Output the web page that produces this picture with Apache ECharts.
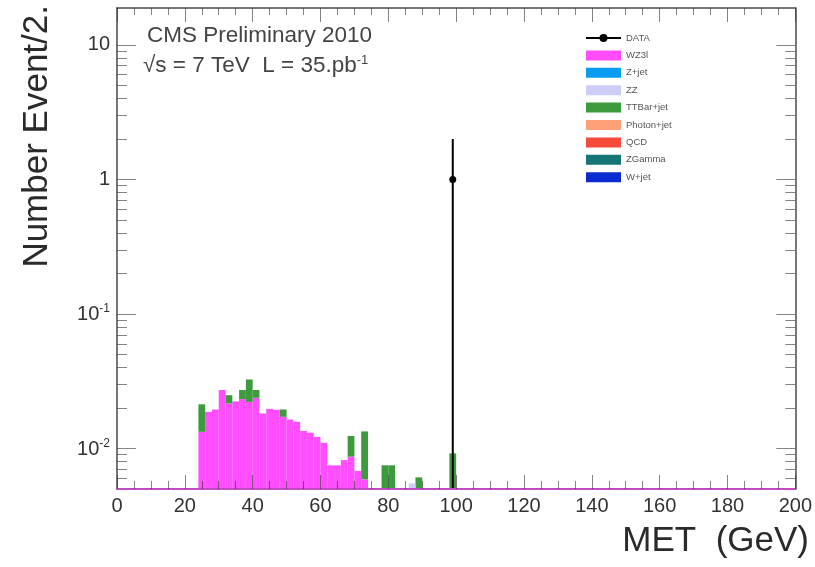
<!DOCTYPE html>
<html><head><meta charset="utf-8">
<script src="https://cdn.jsdelivr.net/npm/echarts@6/dist/echarts.min.js"></script>
<style>html,body{margin:0;padding:0;background:#fff}#c{width:815px;height:567px}</style>
</head><body><div id="c"></div>
<script>
// ---- data ----
const binWidth = 2;
const wz3lBins   = [24, 26, 28, 30, 32, 34, 36, 38, 40, 42, 44, 46, 48, 50, 52, 54, 56, 58, 60, 62, 64, 66, 68, 70, 72];
const wz3lValues = [0.0133, 0.0187, 0.0195, 0.0272, 0.0216, 0.0224, 0.0233, 0.0222, 0.0238, 0.0182, 0.0197, 0.0194, 0.0172, 0.0164, 0.0158, 0.0135, 0.0131, 0.0122, 0.0110, 0.0075, 0.0075, 0.0082, 0.0087, 0.0068, 0.0059];
const ttbarBins   = [24, 32, 36, 38, 40, 48, 68, 72, 78, 80, 88, 98];
const ttbarValues = [0.0080, 0.0033, 0.0039, 0.0104, 0.0034, 0.0023, 0.0037, 0.0075, 0.0075, 0.0075, 0.0061, 0.0092];
const zzBins   = [86];
const zzValues = [0.0055];
const dataX = [99];
const dataY = [1];
const dataErrLow  = [1];
const dataErrHigh = [1];
const legendNames = ['DATA', 'WZ3l', 'Z+jet', 'ZZ', 'TTBar+jet', 'Photon+jet', 'QCD', 'ZGamma', 'W+jet'];
const yMajorTicks = [0.01, 0.1, 1, 10];
const yMinorTicks = [0.006, 0.007, 0.008, 0.009, 0.02, 0.03, 0.04, 0.05, 0.06, 0.07, 0.08, 0.09,
                     0.2, 0.3, 0.4, 0.5, 0.6, 0.7, 0.8, 0.9, 2, 3, 4, 5, 6, 7, 8, 9];

// ---- layout / style ----
const yMin = 0.005, yMax = 18.8;
const colors = {
  'WZ3l': '#ff4dff', 'Z+jet': '#0a9bf2', 'ZZ': '#cdcdf7', 'TTBar+jet': '#3d9b3d',
  'Photon+jet': '#ffa078', 'QCD': '#f64a3a', 'ZGamma': '#167575', 'W+jet': '#0a2bd0'
};
const FONT = 'Liberation Sans';
const tickColor = 'rgba(50,50,50,0.6)';
const frameColor = '#4a4a4a';

const wz3lMap = {};
wz3lBins.forEach((b, i) => { wz3lMap[b] = wz3lValues[i]; });

const wz3lData = wz3lBins.map((b, i) => [b, b + binWidth, yMin, wz3lValues[i]]);
const ttbarData = ttbarBins.map((b, i) => {
  const base = wz3lMap[b] || yMin;
  return [b, b + binWidth, base, (wz3lMap[b] || 0) + ttbarValues[i]];
});
const zzData = zzBins.map((b, i) => [b, b + binWidth, yMin, zzValues[i]]);
const errData = dataX.map((x, i) => [x, Math.max(dataY[i] - dataErrLow[i], yMin), dataY[i] + dataErrHigh[i]]);
const pointData = dataX.map((x, i) => [x, dataY[i]]);

function histRender(params, api) {
  const p0 = api.coord([api.value(0), api.value(2)]);
  const p1 = api.coord([api.value(1), api.value(3)]);
  return { type: 'rect', shape: { x: p0[0], y: p1[1], width: p1[0] - p0[0], height: p0[1] - p1[1] },
           style: { fill: api.visual('color') } };
}
function errRender(params, api) {
  const a = api.coord([api.value(0), api.value(1)]);
  const b = api.coord([api.value(0), api.value(2)]);
  return { type: 'line', shape: { x1: a[0], y1: a[1], x2: b[0], y2: b[1] }, style: { stroke: '#000', lineWidth: 2 } };
}
function histSeries(name, data) {
  return { name, type: 'custom', renderItem: histRender, data, clip: true,
           encode: { x: [0, 1], y: [2, 3] }, itemStyle: { color: colors[name] }, z: 2 };
}

const yFmt = v => {
  const e = Math.round(Math.log10(v));
  if (Math.abs(Math.log10(v) - e) > 1e-6) return '';
  if (e === 0) return '1';
  if (e === 1) return '10';
  return '{b|10}{s|' + e + '}';
};
const yRich = {
  b: { fontSize: 20, fontFamily: FONT, color: '#333', lineHeight: 22, verticalAlign: 'bottom' },
  s: { fontSize: 12, fontFamily: FONT, color: '#333', lineHeight: 12, verticalAlign: 'top' }
};
const yBase = { type: 'log', logBase: 10, min: yMin, max: yMax, z: 5, splitLine: { show: false },
                minorTick: { show: false }, minorSplitLine: { show: false } };
const xBase = { type: 'value', min: 0, max: 200, interval: 20, z: 5, splitLine: { show: false } };

const option = {
  animation: false,
  backgroundColor: '#fff',
  grid: { left: 117, right: 19, top: 8, bottom: 78, containLabel: false },
  title: [
    { text: 'CMS Preliminary 2010', left: 142, top: 19,
      textStyle: { fontSize: 22.5, fontWeight: 'normal', color: '#444', fontFamily: FONT } },
    { text: '√s = 7 TeV  L = 35.pb{s|-1}', left: 138, top: 49,
      textStyle: { fontSize: 22.5, fontWeight: 'normal', color: '#444', fontFamily: FONT,
        rich: { s: { fontSize: 13, verticalAlign: 'top', lineHeight: 13, color: '#444', fontFamily: FONT } } } }
  ],
  legend: {
    orient: 'vertical', left: 585, top: 33, itemWidth: 35, itemHeight: 10, itemGap: 7.4, padding: 0,
    textStyle: { fontSize: 9.5, color: '#555', fontFamily: FONT },
    data: legendNames.map(n => n === 'DATA' ? { name: n } : { name: n, icon: 'rect' })
  },
  xAxis: [
    { ...xBase, position: 'bottom',
      axisLine: { show: true, onZero: false, lineStyle: { color: '#c24cc2', width: 2 } },
      axisTick: { show: true, inside: true, length: 14, lineStyle: { color: tickColor } },
      minorTick: { show: true, splitNumber: 4, length: 8, lineStyle: { color: tickColor } },
      axisLabel: { margin: 7, fontSize: 20, color: '#333', fontFamily: FONT } },
    { ...xBase, position: 'top',
      axisLine: { show: true, onZero: false, lineStyle: { color: frameColor, width: 1.5 } },
      axisTick: { show: true, inside: true, length: 14, lineStyle: { color: tickColor } },
      minorTick: { show: true, splitNumber: 4, length: 7, lineStyle: { color: tickColor } },
      axisLabel: { show: false } }
  ],
  yAxis: [
    { ...yBase, position: 'left', offset: 0,
      axisLine: { show: true, onZero: false, lineStyle: { color: frameColor, width: 1.5 } },
      axisTick: { show: true, inside: true, length: 19, customValues: yMajorTicks, lineStyle: { color: tickColor } },
      axisLabel: { show: true, customValues: yMajorTicks, formatter: yFmt, rich: yRich, margin: 7,
                   fontSize: 20, color: '#333', fontFamily: FONT } },
    { ...yBase, position: 'left', offset: 0,
      axisLine: { show: false, onZero: false },
      axisTick: { show: true, inside: true, length: 10, customValues: yMinorTicks, lineStyle: { color: tickColor } },
      axisLabel: { show: false } },
    { ...yBase, position: 'right', offset: 0,
      axisLine: { show: true, onZero: false, lineStyle: { color: frameColor, width: 1.5 } },
      axisTick: { show: true, inside: true, length: 19, customValues: yMajorTicks, lineStyle: { color: tickColor } },
      axisLabel: { show: false } },
    { ...yBase, position: 'right', offset: 0,
      axisLine: { show: false, onZero: false },
      axisTick: { show: true, inside: true, length: 10, customValues: yMinorTicks, lineStyle: { color: tickColor } },
      axisLabel: { show: false } }
  ],
  graphic: [
    { type: 'text', x: 37, y: 5, rotation: Math.PI / 2,
      style: { text: 'Number Event/2.', fontSize: 35, fontFamily: FONT, fill: '#2a2a2a', align: 'right', verticalAlign: 'middle' } },
    { type: 'text', x: 809, y: 541,
      style: { text: 'MET  (GeV)', fontSize: 35, fontFamily: FONT, fill: '#2a2a2a', align: 'right', verticalAlign: 'middle' } }
  ],
  series: [
    histSeries('WZ3l', wz3lData),
    histSeries('TTBar+jet', ttbarData),
    histSeries('ZZ', zzData),
    histSeries('Z+jet', []),
    histSeries('Photon+jet', []),
    histSeries('QCD', []),
    histSeries('ZGamma', []),
    histSeries('W+jet', []),
    { name: 'DATA_err', type: 'custom', renderItem: errRender, data: errData, clip: true,
      encode: { x: 0, y: [1, 2] }, z: 3 },
    { name: 'DATA', type: 'line', data: pointData, symbol: 'circle', symbolSize: 7,
      itemStyle: { color: '#000' }, lineStyle: { color: '#000', width: 2 }, z: 4 }
  ]
};
echarts.init(document.getElementById('c')).setOption(option);
</script>
</body></html>
